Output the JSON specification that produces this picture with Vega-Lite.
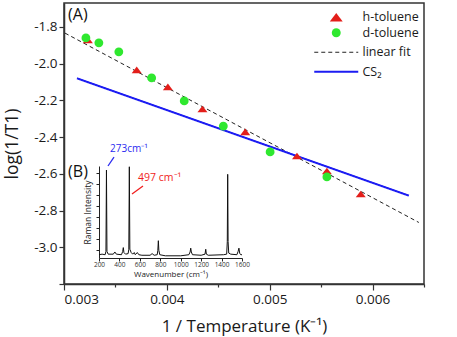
{
  "$schema": "https://vega.github.io/schema/vega-lite/v6.json",
  "width": 360,
  "height": 281,
  "autosize": {"type": "none"},
  "padding": {"left": 64, "top": 3, "right": 33, "bottom": 53},
  "config": {
    "font": "Open Sans",
    "view": {"stroke": "#333", "strokeWidth": 1.5},
    "axis": {"grid": false, "labelColor": "#1a1a1a", "titleColor": "#1a1a1a", "titleFontWeight": "normal", "domainColor": "#333", "tickColor": "#333"},
    "legend": {"labelColor": "#1a1a1a"}
  },
  "layer": [
    {
      "layer": [
        {
          "data": {"values": [
            {"series": "linear fit", "x": 0.00301, "y": -1.834},
            {"series": "linear fit", "x": 0.00645, "y": -2.865},
            {"series": "CS₂", "x": 0.003126, "y": -2.08},
            {"series": "CS₂", "x": 0.006353, "y": -2.719}
          ]},
          "mark": {"type": "line", "clip": false},
          "encoding": {
            "x": {"field": "x", "type": "quantitative",
              "scale": {"domain": [0.003, 0.0065], "nice": false, "zero": false},
              "axis": {
                "values": [0.003, 0.0035, 0.004, 0.0045, 0.005, 0.0055, 0.006, 0.0065],
                "labelExpr": "abs(datum.value*1000 - round(datum.value*1000)) < 0.01 ? format(datum.value, '.3f') : ''",
                "tickSize": {"condition": {"test": "abs(datum.value*1000 - round(datum.value*1000)) < 0.01", "value": 6}, "value": 3},
                "tickWidth": 1.2, "domainWidth": 1.5,
                "labelFontSize": 13.5, "labelPadding": 2,
                "title": "1 / Temperature (K⁻¹)", "titleFontSize": 17,
                "titleBaseline": "alphabetic", "titleY": 47
              }},
            "y": {"field": "y", "type": "quantitative",
              "scale": {"domain": [-3.2, -1.67], "nice": false, "zero": false},
              "axis": {
                "values": [-3.2, -3.1, -3.0, -2.9, -2.8, -2.7, -2.6, -2.5, -2.4, -2.3, -2.2, -2.1, -2.0, -1.9, -1.8, -1.7],
                "labelExpr": "abs(datum.value*5 - round(datum.value*5)) < 0.01 && datum.value > -3.15 ? '-' + format(abs(datum.value), '.1f') : ''",
                "tickSize": {"condition": {"test": "abs(datum.value*5 - round(datum.value*5)) < 0.01", "value": 5}, "value": 3},
                "tickWidth": 1.2, "domainWidth": 1.5,
                "labelFontSize": 13.5, "labelPadding": 2,
                "title": "log(1/T1)", "titleFontSize": 17.5,
                "titleBaseline": "middle", "titleX": -51.5
              }},
            "color": {"field": "series", "type": "nominal",
              "scale": {"domain": ["linear fit", "CS₂"], "range": ["#222222", "#1c1cf2"]},
              "legend": {"orient": "none", "legendX": 266, "legendY": 43, "padding": 0, "title": null,
                "symbolSize": 1936, "labelOffset": 20, "labelFontSize": 12.5, "rowPadding": 6.5,
                "encode": {"symbols": {"update": {"strokeWidth": {"signal": "datum.value === 'CS₂' ? 2 : 1"}}}}}},
            "strokeDash": {"field": "series", "type": "nominal",
              "scale": {"domain": ["linear fit", "CS₂"], "range": [[4, 3], [1, 0]]},
              "legend": {"orient": "none", "legendX": 266, "legendY": 43, "padding": 0, "title": null,
                "symbolSize": 1936, "labelOffset": 20, "labelFontSize": 12.5, "rowPadding": 6.5,
                "encode": {"symbols": {"update": {"strokeWidth": {"signal": "datum.value === 'CS₂' ? 2 : 1"}}}}}},
            "strokeWidth": {"condition": {"test": "datum.series === 'CS₂'", "value": 2}, "value": 1}
          }
        },
        {
          "data": {"values": [
            {"series": "h-toluene", "x": 0.003232, "y": -1.871},
            {"series": "h-toluene", "x": 0.003707, "y": -2.034},
            {"series": "h-toluene", "x": 0.00401, "y": -2.127},
            {"series": "h-toluene", "x": 0.004346, "y": -2.247},
            {"series": "h-toluene", "x": 0.004762, "y": -2.372},
            {"series": "h-toluene", "x": 0.005265, "y": -2.503},
            {"series": "h-toluene", "x": 0.005556, "y": -2.585},
            {"series": "h-toluene", "x": 0.005885, "y": -2.71},
            {"series": "d-toluene", "x": 0.003213, "y": -1.86},
            {"series": "d-toluene", "x": 0.003339, "y": -1.887},
            {"series": "d-toluene", "x": 0.003533, "y": -1.936},
            {"series": "d-toluene", "x": 0.003852, "y": -2.078},
            {"series": "d-toluene", "x": 0.004169, "y": -2.203},
            {"series": "d-toluene", "x": 0.004549, "y": -2.34},
            {"series": "d-toluene", "x": 0.005004, "y": -2.481},
            {"series": "d-toluene", "x": 0.005556, "y": -2.617}
          ]},
          "mark": {"type": "point", "filled": true, "opacity": 1, "size": 78, "clip": false},
          "encoding": {
            "x": {"field": "x", "type": "quantitative"},
            "y": {"field": "y", "type": "quantitative"},
            "color": {"field": "series", "type": "nominal",
              "scale": {"domain": ["h-toluene", "d-toluene"], "range": ["#e31e1a", "#2fe82f"]},
              "legend": {"orient": "none", "legendX": 266, "legendY": 8, "padding": 0, "title": null,
                "symbolSize": 90, "labelOffset": 20, "labelFontSize": 12.5, "rowPadding": 2.5, "symbolOpacity": 1,
                "encode": {"symbols": {"update": {"size": {"signal": "datum.value === 'h-toluene' ? 130 : 80"}}}}}},
            "shape": {"field": "series", "type": "nominal",
              "scale": {"domain": ["h-toluene", "d-toluene"], "range": ["M0,-0.75L-1.13,0.75L1.13,0.75Z", "circle"]},
              "legend": {"orient": "none", "legendX": 266, "legendY": 8, "padding": 0, "title": null,
                "symbolSize": 90, "labelOffset": 20, "labelFontSize": 12.5, "rowPadding": 2.5, "symbolOpacity": 1,
                "encode": {"symbols": {"update": {"size": {"signal": "datum.value === 'h-toluene' ? 130 : 80"}}}}}}
          }
        },
        {
          "data": {"values": [
            {"x": 0.00304, "y": -1.763, "label": "(A)"},
            {"x": 0.00304, "y": -2.62, "label": "(B)"}
          ]},
          "mark": {"type": "text", "align": "left", "baseline": "alphabetic", "fontSize": 16, "color": "#111"},
          "encoding": {
            "x": {"field": "x", "type": "quantitative"},
            "y": {"field": "y", "type": "quantitative"},
            "text": {"field": "label"}
          }
        }
      ],
      "resolve": {"scale": {"color": "independent", "shape": "independent", "strokeDash": "independent"}}
    },
    {
      "layer": [
        {
          "data": {"values": [
            {"wn": 200, "i": 0.3}, {"wn": 230, "i": 0.35}, {"wn": 260, "i": 0.3}, {"wn": 268, "i": 0.6}, {"wn": 273, "i": 8.03}, {"wn": 278, "i": 0.6},
            {"wn": 290, "i": 0.35}, {"wn": 340, "i": 0.35}, {"wn": 355, "i": 0.55}, {"wn": 370, "i": 0.35}, {"wn": 420, "i": 0.3},
            {"wn": 432, "i": 0.6}, {"wn": 438, "i": 0.95}, {"wn": 444, "i": 0.5}, {"wn": 460, "i": 0.35}, {"wn": 485, "i": 0.4},
            {"wn": 492, "i": 0.8}, {"wn": 497, "i": 8.33}, {"wn": 502, "i": 0.8}, {"wn": 515, "i": 0.5}, {"wn": 530, "i": 0.35},
            {"wn": 545, "i": 0.5}, {"wn": 555, "i": 0.3}, {"wn": 575, "i": 0.5}, {"wn": 590, "i": 0.3}, {"wn": 620, "i": 0.25},
            {"wn": 700, "i": 0.25}, {"wn": 720, "i": 0.4}, {"wn": 740, "i": 0.25}, {"wn": 770, "i": 0.3}, {"wn": 776, "i": 0.7},
            {"wn": 781, "i": 1.58}, {"wn": 786, "i": 0.7}, {"wn": 795, "i": 0.3}, {"wn": 850, "i": 0.2}, {"wn": 1000, "i": 0.2},
            {"wn": 1080, "i": 0.3}, {"wn": 1092, "i": 0.55}, {"wn": 1098, "i": 0.9}, {"wn": 1104, "i": 0.55}, {"wn": 1115, "i": 0.3},
            {"wn": 1200, "i": 0.25}, {"wn": 1238, "i": 0.35}, {"wn": 1245, "i": 0.8}, {"wn": 1251, "i": 0.35}, {"wn": 1270, "i": 0.25},
            {"wn": 1420, "i": 0.3}, {"wn": 1450, "i": 0.35}, {"wn": 1456, "i": 1.5}, {"wn": 1460, "i": 7.64}, {"wn": 1464, "i": 1.5},
            {"wn": 1470, "i": 0.45}, {"wn": 1490, "i": 0.35}, {"wn": 1550, "i": 0.3}, {"wn": 1562, "i": 0.6}, {"wn": 1570, "i": 0.9},
            {"wn": 1578, "i": 0.4}, {"wn": 1590, "i": 0.3}, {"wn": 1600, "i": 0.3}
          ]},
          "mark": {"type": "line", "color": "#111", "strokeWidth": 1, "clip": false},
          "encoding": {
            "x": {"field": "wn", "type": "quantitative",
              "scale": {"domain": [200, 1600], "range": [35, 178], "nice": false, "zero": false},
              "axis": {
                "orient": "bottom", "offset": -26,
                "values": [200, 300, 400, 500, 600, 700, 800, 900, 1000, 1100, 1200, 1300, 1400, 1500, 1600],
                "labelExpr": "datum.value % 200 === 0 ? format(datum.value, 'd') : ''",
                "labelOverlap": false, "labelFlush": false, "labelBound": false,
                "tickSize": {"condition": {"test": "datum.value % 200 === 0", "value": 3}, "value": 2},
                "labelFontSize": 6.5, "labelPadding": 0.5, "labelColor": "#333",
                "domainColor": "#222", "tickColor": "#222",
                "title": "Wavenumber (cm⁻¹)", "titleFontSize": 8, "titlePadding": 2.5, "titleColor": "#222"
              }},
            "y": {"field": "i", "type": "quantitative",
              "scale": {"domain": [0, 8.4], "range": [255, 163], "nice": false, "zero": false},
              "axis": {
                "orient": "left", "offset": -35,
                "values": [0.75, 1.75, 2.75, 3.75, 4.75, 5.75, 6.75, 7.75],
                "labels": false, "tickSize": 3,
                "domainColor": "#222", "tickColor": "#222",
                "title": "Raman Intensity", "titleFontSize": 8.5, "titlePadding": 3, "titleColor": "#222"
              }}
          }
        },
        {
          "data": {"values": [{"wn": 288, "i": 8.4, "wn2": 347, "i2": 9.22}]},
          "mark": {"type": "rule", "color": "#2a2af0", "strokeWidth": 1.3, "clip": false},
          "encoding": {
            "x": {"field": "wn", "type": "quantitative"}, "y": {"field": "i", "type": "quantitative"},
            "x2": {"field": "wn2"}, "y2": {"field": "i2"}
          }
        },
        {
          "data": {"values": [{"wn": 523, "i": 5.84, "wn2": 631, "i2": 6.57}]},
          "mark": {"type": "rule", "color": "#f01e1e", "strokeWidth": 1.3, "clip": false},
          "encoding": {
            "x": {"field": "wn", "type": "quantitative"}, "y": {"field": "i", "type": "quantitative"},
            "x2": {"field": "wn2"}, "y2": {"field": "i2"}
          }
        },
        {
          "data": {"values": [{"wn": 308, "i": 9.68, "label": "273cm⁻¹"}]},
          "mark": {"type": "text", "align": "left", "baseline": "alphabetic", "fontSize": 10, "color": "#2a2af0", "clip": false},
          "encoding": {
            "x": {"field": "wn", "type": "quantitative"}, "y": {"field": "i", "type": "quantitative"},
            "text": {"field": "label"}
          }
        },
        {
          "data": {"values": [{"wn": 582, "i": 7.03, "label": "497 cm⁻¹"}]},
          "mark": {"type": "text", "align": "left", "baseline": "alphabetic", "fontSize": 10.5, "color": "#f01e1e", "clip": false},
          "encoding": {
            "x": {"field": "wn", "type": "quantitative"}, "y": {"field": "i", "type": "quantitative"},
            "text": {"field": "label"}
          }
        }
      ]
    }
  ],
  "resolve": {"scale": {"x": "independent", "y": "independent"}, "axis": {"x": "independent", "y": "independent"}}
}
